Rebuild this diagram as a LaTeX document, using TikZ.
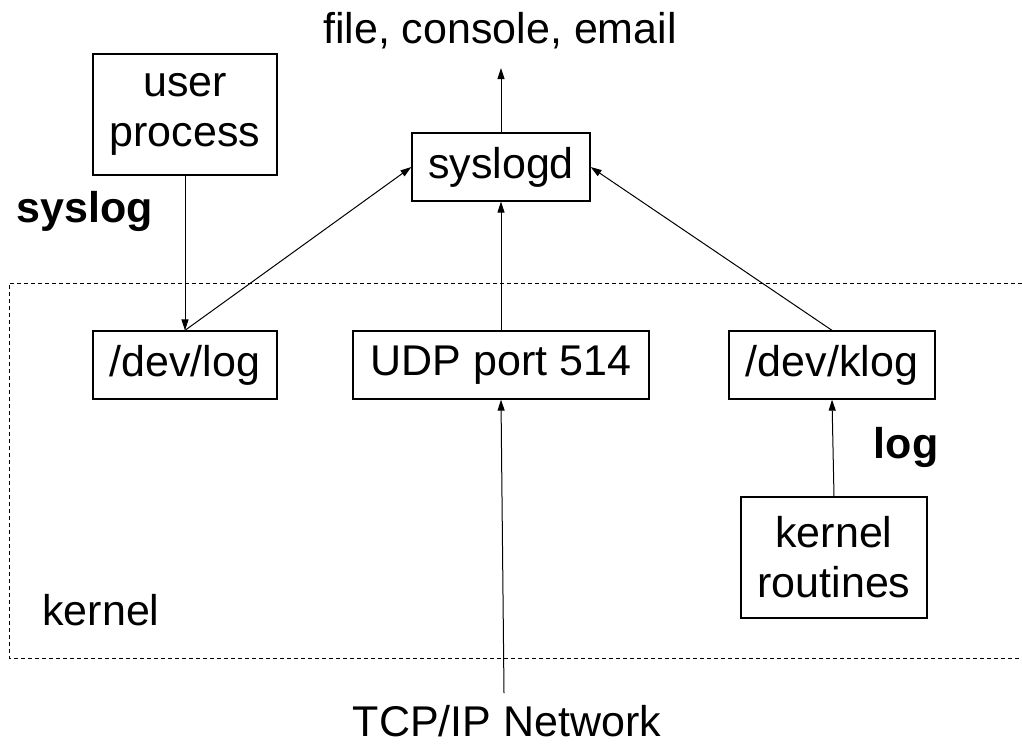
\documentclass[tikz,border=0pt]{standalone}
\usepackage{fontspec}
\setmainfont{Liberation Sans}
\usetikzlibrary{arrows.meta}
\begin{document}
\begin{tikzpicture}[x=1pt,y=-1pt,
  every node/.style={font=\fontsize{43}{50}\selectfont, inner sep=0pt},
  boxnode/.style={draw, line width=1.3pt, minimum width=#1, align=center},
  arr/.style={line width=1pt, -{Triangle[length=11pt,width=7pt]}},
  lbl/.style={font=\fontsize{43}{50}\selectfont\bfseries}]
\useasboundingbox (0,0) rectangle (1022,747);
% kernel boundary
\draw[line width=1pt, dash pattern=on 4pt off 3pt] (1022,283) -- (9,283) -- (9,658) -- (1022,658);
% nodes
\node[boxnode=184, minimum height=121] (user) at (185,114.5) {user\\process};
\node[boxnode=178, minimum height=68] (syslogd) at (501,167) {syslogd};
\node[boxnode=184, minimum height=68] (devlog) at (185,365) {/dev/log};
\node[boxnode=296, minimum height=68] (udp) at (501,365) {UDP port 514};
\node[boxnode=206, minimum height=68] (klog) at (832,365) {/dev/klog};
\node[boxnode=186, minimum height=121] (kroutines) at (834,557.5) {kernel\\routines};
\node[anchor=base] (out) at (500,43) {file, console, email};
\node[anchor=base] (tcp) at (507,736) {TCP/IP Network};
\node[anchor=base] (kernel) at (101,625) {kernel};
\node[lbl, anchor=base] (syslog) at (85,222) {syslog};
\node[lbl, anchor=base] (log) at (906,458) {log};
\coordinate (outin) at (501,68);
\coordinate (tcpin) at (504,693);
% connectors
\draw[arr] (syslogd.north) -- (outin);
\draw[arr] (user.south) -- (devlog.north);
\draw[arr] (devlog.north) -- (syslogd.west);
\draw[arr] (udp.north) -- (syslogd.south);
\draw[arr] (klog.north) -- (syslogd.east);
\draw[arr] (tcpin) -- (udp.south);
\draw[arr] (kroutines.north) -- (klog.south);
\end{tikzpicture}
\end{document}
